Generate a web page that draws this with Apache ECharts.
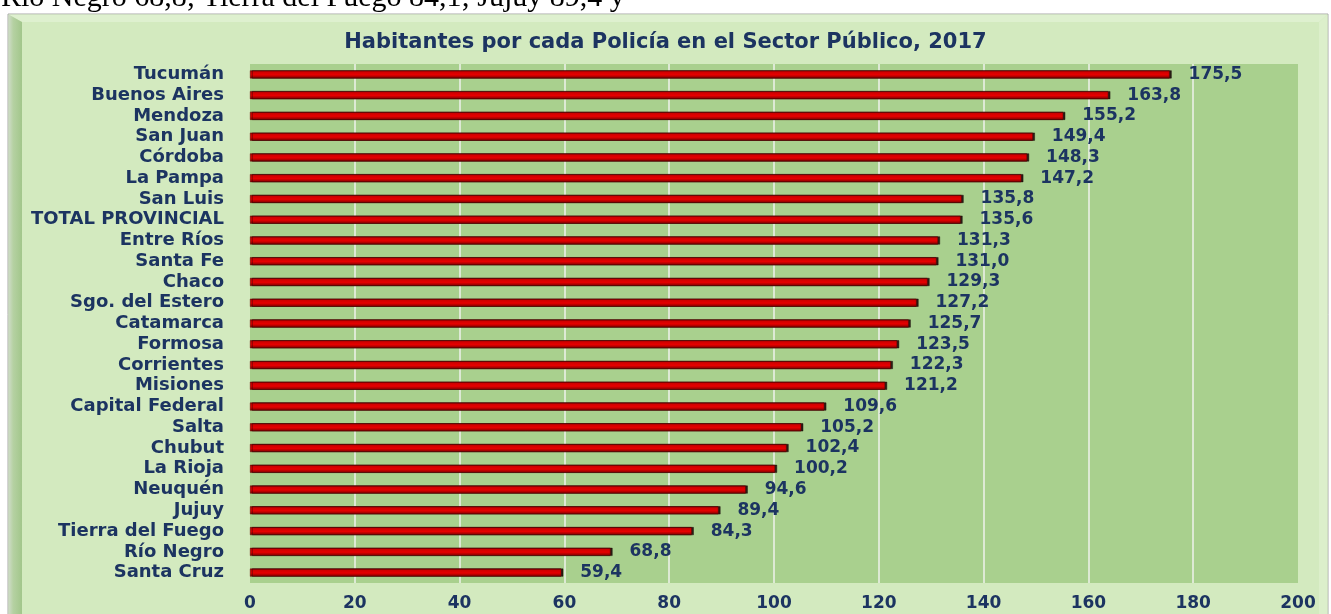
<!DOCTYPE html>
<html>
<head>
<meta charset="utf-8">
<script src="https://cdn.jsdelivr.net/npm/echarts@6/dist/echarts.min.js"></script>
<style>
html,body{margin:0;padding:0;background:#ffffff;}
#chart{width:1331px;height:614px;}
</style>
</head>
<body>
<div id="chart"></div>
<script>
var categories = ["Tucumán","Buenos Aires","Mendoza","San Juan","Córdoba","La Pampa","San Luis","TOTAL PROVINCIAL","Entre Ríos","Santa Fe","Chaco","Sgo. del Estero","Catamarca","Formosa","Corrientes","Misiones","Capital Federal","Salta","Chubut","La Rioja","Neuquén","Jujuy","Tierra del Fuego","Río Negro","Santa Cruz"];
var values = [175.5,163.8,155.2,149.4,148.3,147.2,135.8,135.6,131.3,131.0,129.3,127.2,125.7,123.5,122.3,121.2,109.6,105.2,102.4,100.2,94.6,89.4,84.3,68.8,59.4];
var titleText = "Habitantes por cada Policía en el Sector Público, 2017";
var topText = "Río Negro 68,8; Tierra del Fuego 84,1; Jujuy 89,4 y";
var xTicks = {min: 0, max: 200, interval: 20};

var navy = '#1c3461';
var FONT = "'DejaVu Sans', Verdana, sans-serif";
var chart = echarts.init(document.getElementById('chart'));
chart.setOption({
  backgroundColor: '#ffffff',
  animation: false,
  title: {
    text: titleText, left: 'center', top: 27,
    textStyle: {color: navy, fontFamily: FONT, fontStyle: 'normal', fontWeight: 'bold', fontSize: 21}
  },
  graphic: [
    {type: 'rect', z: -100, shape: {x: 8, y: 14, width: 1320, height: 610},
     style: {fill: '#d3eabf', stroke: '#a8a8a8', lineWidth: 1}},
    {type: 'polygon', z: -99, shape: {points: [[8.5,14.5],[1327.5,14.5],[1319,22],[22,22]]},
     style: {fill: '#def0cf'}},
    {type: 'polygon', z: -99, shape: {points: [[1327.5,14.5],[1319,22],[1319,614],[1327.5,614]]},
     style: {fill: '#dcefcb'}},
    {type: 'polygon', z: -98, shape: {points: [[8.5,14.5],[22,22],[22,614],[8.5,614]]},
     style: {fill: new echarts.graphic.LinearGradient(0,0,1,0,[
       {offset: 0, color: '#cfdcc8'}, {offset: 0.35, color: '#b5d1a2'}, {offset: 1, color: '#a2c68b'}])}},
    {type: 'text', z: 100, x: 1, y: -2,
     style: {text: topText, fill: '#000000', fontFamily: 'Liberation Serif', fontSize: 30,
             verticalAlign: 'middle', align: 'left'}}
  ],
  grid: {left: 250, right: 33, top: 64, bottom: 31, show: true,
         backgroundColor: '#a9d08e', borderWidth: 0},
  xAxis: {
    type: 'value', min: xTicks.min, max: xTicks.max, interval: xTicks.interval,
    axisLine: {show: false}, axisTick: {show: false},
    axisLabel: {color: navy, fontFamily: FONT, fontStyle: 'normal', fontWeight: 'bold', fontSize: 17, margin: 12},
    splitLine: {show: true, showMinLine: false, showMaxLine: false,
                lineStyle: {color: '#dde9d4', width: 2}}
  },
  yAxis: {
    type: 'category', data: categories, inverse: true,
    axisLine: {show: false}, axisTick: {show: false},
    axisLabel: {interval: 0, color: navy, fontFamily: FONT, fontStyle: 'normal', fontWeight: 'bold', fontSize: 18, margin: 26},
    splitLine: {show: false}
  },
  series: [{
    type: 'bar', data: values, barWidth: 8,
    itemStyle: {
      color: new echarts.graphic.LinearGradient(0,0,0,1,[
        {offset: 0, color: '#800000'}, {offset: 0.2, color: '#d00000'},
        {offset: 0.55, color: '#e60000'}, {offset: 1, color: '#780000'}]),
      borderColor: '#600000', borderWidth: 0.5,
      shadowColor: 'rgba(20,0,0,0.85)', shadowOffsetX: 2, shadowBlur: 0
    },
    label: {
      show: true, position: 'right', distance: 19,
      color: navy, fontFamily: FONT, fontStyle: 'normal', fontWeight: 'bold', fontSize: 17,
      formatter: function (p) { return p.value.toFixed(1).replace('.', ','); }
    }
  }]
});
</script>
</body>
</html>
